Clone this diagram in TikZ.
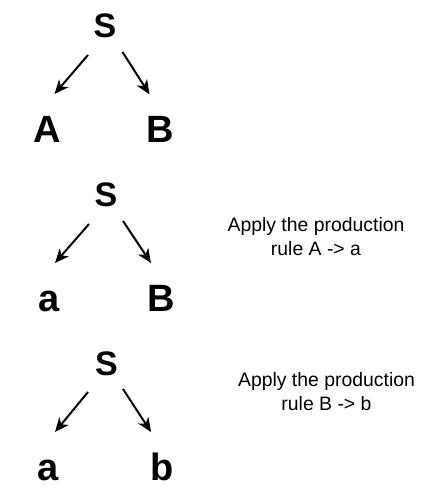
\documentclass[tikz,border=0pt]{standalone}
\usepackage{fontspec}
\setmainfont{Liberation Sans}
\usetikzlibrary{arrows.meta}
\tikzset{
  root/.style={inner sep=0pt, anchor=base, font=\fontsize{34}{40}\selectfont\bfseries},
  leaf/.style={inner sep=0pt, anchor=base, font=\fontsize{38}{44}\selectfont\bfseries},
  note/.style={inner sep=0pt, anchor=base, align=center, font=\fontsize{19.4}{23.3}\selectfont},
  edge/.style={line width=2pt, -{Stealth[length=14pt,width=12pt,inset=4pt]}}
}
\begin{document}
\begin{tikzpicture}[x=1pt,y=-1pt]
\useasboundingbox (0,0) rectangle (422,501);
% tree 1
\node[root] (S1) at (105,37) {S};
\node[leaf] (A1) at (47.5,142) {A};
\node[leaf] (B1) at (160.5,142) {B};
\coordinate (S1l) at (88,55);
\coordinate (S1r) at (122.5,52);
\coordinate (A1t) at (54.5,94);
\coordinate (B1t) at (149.5,94.3);
\draw[edge] (S1l) -- (A1t);
\draw[edge] (S1r) -- (B1t);
% tree 2
\node[root] (S2) at (106,206) {S};
\node[leaf] (A2) at (49,311.5) {a};
\node[leaf] (B2) at (161.5,311.5) {B};
\coordinate (S2l) at (89,224);
\coordinate (S2r) at (123,221);
\coordinate (A2t) at (55,263);
\coordinate (B2t) at (151,263);
\draw[edge] (S2l) -- (A2t);
\draw[edge] (S2r) -- (B2t);
\node[note] (N1) at (316,255) {Apply the production\\rule A -> a};
% tree 3
\node[root] (S3) at (106.5,375) {S};
\node[leaf] (A3) at (48.5,480) {a};
\node[leaf] (B3) at (162,480) {b};
\coordinate (S3l) at (88,392);
\coordinate (S3r) at (123,389);
\coordinate (A3t) at (55,432);
\coordinate (B3t) at (151,432);
\draw[edge] (S3l) -- (A3t);
\draw[edge] (S3r) -- (B3t);
\node[note] (N2) at (326.5,410) {Apply the production\\rule B -> b};
\end{tikzpicture}
\end{document}
